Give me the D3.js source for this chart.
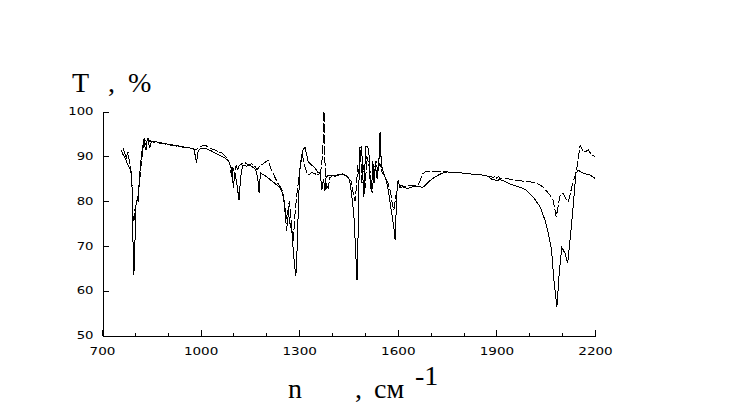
<!DOCTYPE html>
<html><head><meta charset="utf-8">
<script src="https://cdn.jsdelivr.net/npm/d3@7"></script>
<style>body{margin:0;background:#fff}svg{display:block}</style>
</head><body>
<script>
const xTicks = [700,1000,1300,1600,1900,2200];
const xMinorTicks = [800,900,1100,1200,1400,1500,1700,1800,2000,2100];
const yTicks = [50,60,70,80,90,100];
const yTitle = ["T", ",", "%"];
const xTitle = ["n", ",", "см", "-1"];

// solid spectrum [wavenumber, T%]
const solidSeries = [[758,91.4],[764,90.4],[770,89.6],[776,88.6],[782,87.6],[788,87.0],[791,84.5],[794,72],[797,63.4],[800,70],[803,79],[807,80.5],[810,81.3],[813,84],[816,87],[819,89.5],[822,91.4],[826,93],[828,94],[831,92],[834,91.5],[837,93.5],[840,94],[843,92.5],[846,92],[850,93.2],[855,93.4],[880,93],[910,92.6],[940,92.2],[965,91.9],[980,91.6],[984,90],[988,88.5],[991,90.8],[996,91.6],[1005,91.7],[1013,91.8],[1030,91.3],[1050,90.5],[1070,89.8],[1085,89],[1095,87],[1100,83],[1104,86.5],[1110,84],[1117,80.2],[1122,85.5],[1128,88],[1140,87.8],[1150,88],[1160,87.5],[1168,87],[1174,85],[1178,81.8],[1182,86.3],[1200,85.5],[1220,84.3],[1242,83],[1248,82],[1255,80],[1260,76],[1266,78],[1272,75],[1278,73],[1283,68],[1287,65],[1290,63.4],[1294,70],[1298,80],[1302,87],[1307,90],[1312,91.5],[1318,92],[1322,90.5],[1328,88.7],[1335,88.2],[1342,87.8],[1350,87.2],[1358,86.3],[1364,86.5],[1369,82.4],[1374,85],[1378,82.3],[1382,85.4],[1390,85.8],[1400,85.8],[1410,85.5],[1420,86],[1430,86],[1440,85.8],[1450,85.3],[1455,84],[1462,80],[1467,76],[1471,70],[1476,62.3],[1479,72],[1482,85],[1485,92],[1490,92.1],[1494,85],[1497,81],[1500,88],[1503,92.2],[1508,92.2],[1512,91],[1516,84],[1520,82],[1524,89],[1528,84],[1532,88],[1537,85],[1542,88],[1546,95.4],[1550,88],[1556,86.5],[1565,84.5],[1572,82],[1578,79],[1584,76],[1589,73.5],[1592,71.3],[1595,78],[1598,83],[1601,84.7],[1606,83],[1615,83.2],[1630,82.8],[1645,83.2],[1660,83.3],[1675,83.1],[1682,83.4],[1692,84.2],[1713,85.4],[1734,86.2],[1750,86.5],[1790,86.3],[1830,86],[1860,85.8],[1876,85.5],[1885,84.9],[1900,84.6],[1912,84.8],[1925,84.4],[1942,83.8],[1972,83.1],[1992,82.4],[2012,80.9],[2033,78.7],[2048,75.7],[2058,72.8],[2068,69],[2075,62.3],[2084,56.3],[2091,63.8],[2099,69.7],[2109,68.3],[2117,66.1],[2129,75],[2142,86.2],[2149,86.9],[2165,86.2],[2185,85.8],[2200,85.1]];

// dashed spectrum [wavenumber, T%]
const dashedSeries = [[764,91.8],[770,90.5],[773,89.4],[777,90.5],[779,91],[782,89.5],[785,88],[788,86.5],[791,84.5],[793,79],[795,75.5],[798,76],[800,78],[803,79],[806,80.2],[810,80],[813,83.5],[816,85.5],[819,88],[822,90],[825,91.4],[828,92.5],[831,93.6],[834,92.5],[838,93.8],[842,93],[846,93.5],[850,93.2],[855,93.2],[880,92.9],[910,92.5],[940,92.1],[965,91.9],[985,91.5],[995,91.8],[1000,92.2],[1013,92.5],[1030,91.8],[1050,91.2],[1065,90.7],[1075,90],[1085,89],[1090,88],[1094,85.5],[1098,87.5],[1103,86.5],[1108,88],[1113,86.9],[1118,88],[1125,88.3],[1135,88.6],[1145,88.1],[1155,88.3],[1165,87.8],[1172,87],[1180,87.8],[1190,88.3],[1205,89.1],[1215,87],[1225,85.5],[1235,84],[1244,83],[1250,82],[1255,79],[1262,73.3],[1266,78],[1270,80],[1275,76],[1282,71],[1286,76],[1292,81],[1298,84.5],[1304,88],[1309,90.7],[1313,89],[1318,87.5],[1324,86.3],[1330,85.9],[1338,86.4],[1346,86.2],[1355,85.8],[1362,86.2],[1368,87.5],[1372,92],[1375.5,100],[1378,90],[1381,82.4],[1384,84],[1388,82.8],[1393,85.2],[1400,85.6],[1410,85.7],[1420,85.8],[1432,86.1],[1442,85.6],[1450,85],[1458,84.5],[1464,82],[1470,80],[1474,83],[1478,88],[1482,86],[1486,91.5],[1491,84],[1496,88],[1501,83],[1506,90],[1512,88],[1517,86],[1522,81.8],[1528,87],[1534,89],[1539,86.5],[1545,88.5],[1552,86.5],[1560,85.5],[1570,84],[1578,82],[1584,79],[1588,78],[1592,80],[1596,82],[1600,82.6],[1610,83.5],[1622,83.2],[1635,83.6],[1650,83.4],[1662,83.7],[1668,84.5],[1675,86],[1683,86.5],[1710,86.5],[1750,86.5],[1790,86.3],[1830,86],[1860,85.8],[1876,85.5],[1884,85.6],[1890,85.2],[1895,85.6],[1900,85.1],[1906,85.5],[1912,85],[1920,85.2],[1942,84.9],[1975,84.5],[2012,84.2],[2028,83.8],[2043,83.1],[2053,82.2],[2063,81.3],[2073,80.2],[2082,76.4],[2088,79],[2094,81.3],[2104,81.7],[2112,80.5],[2119,79.8],[2129,83],[2144,86.9],[2155,92.5],[2163,91.3],[2170,91],[2180,91.4],[2190,90.3],[2200,89.9]];

const W = 738, H = 414;
const svg = d3.select("body").append("svg").attr("width", W).attr("height", H);

const x = d3.scaleLinear().domain([700, 2200]).range([102, 595]);
const y = d3.scaleLinear().domain([50, 100]).range([335.5, 111.5]);

const tickFont = "'DejaVu Sans', sans-serif";
const fmt = d3.format("d");

// Y axis
const yAxis = svg.append("g").attr("transform", "translate(102.5,0)")
  .call(d3.axisLeft(y).tickValues(yTicks).tickFormat(fmt).tickSize(-6).tickPadding(9).tickSizeOuter(0));
yAxis.select(".domain").attr("stroke", "#000").attr("shape-rendering", "crispEdges");
yAxis.selectAll(".tick line").attr("stroke", "#000").attr("shape-rendering", "crispEdges");
yAxis.selectAll(".tick text").attr("font-family", tickFont).attr("font-size", 10).attr("fill", "#000")
  .attr("textLength", d => fmt(d).length * 8.4).attr("lengthAdjust", "spacingAndGlyphs");

// X axis
const xAxis = svg.append("g").attr("transform", "translate(0,335.5)")
  .call(d3.axisBottom(x).tickValues(xTicks).tickFormat(fmt).tickSize(-6).tickPadding(12).tickSizeOuter(0));
xAxis.select(".domain").attr("stroke", "#000").attr("shape-rendering", "crispEdges");
xAxis.selectAll(".tick line").attr("stroke", "#000").attr("shape-rendering", "crispEdges");
xAxis.selectAll(".tick text").attr("font-family", tickFont).attr("font-size", 10).attr("fill", "#000")
  .attr("textLength", d => fmt(d).length * 8.6).attr("lengthAdjust", "spacingAndGlyphs");

// minor x ticks
svg.append("g").selectAll("line").data(xMinorTicks).join("line")
  .attr("x1", d => Math.round(x(d)) + 0.5).attr("x2", d => Math.round(x(d)) + 0.5)
  .attr("y1", 335.5).attr("y2", 332.5).attr("stroke", "#000").attr("shape-rendering", "crispEdges");

// lines
const line = d3.line().x(d => x(d[0])).y(d => y(d[1]));
svg.append("path").datum(solidSeries).attr("d", line)
  .attr("fill", "none").attr("stroke", "#000").attr("stroke-width", 1)
  .attr("shape-rendering", "crispEdges");
svg.append("path").datum(dashedSeries).attr("d", line)
  .attr("fill", "none").attr("stroke", "#000").attr("stroke-width", 1)
  .attr("shape-rendering", "crispEdges")
  .attr("stroke-dasharray", "9,2");

// titles
const serif = "'Liberation Serif', 'Times New Roman', serif";
const yT = svg.append("text").attr("font-family", serif).attr("font-size", 28).attr("fill", "#000");
const yTitleX = [72, 108, 128];
yTitle.forEach((s, i) => yT.append("tspan").attr("x", yTitleX[i]).attr("y", 92).text(s));

const xT = svg.append("text").attr("font-family", serif).attr("font-size", 28).attr("fill", "#000");
const xTitleX = [288, 355, 374, 415];
const xTitleY = [398, 398, 398, 385];
xTitle.forEach((s, i) => xT.append("tspan").attr("x", xTitleX[i]).attr("y", xTitleY[i]).text(s));
</script>
</body></html>
